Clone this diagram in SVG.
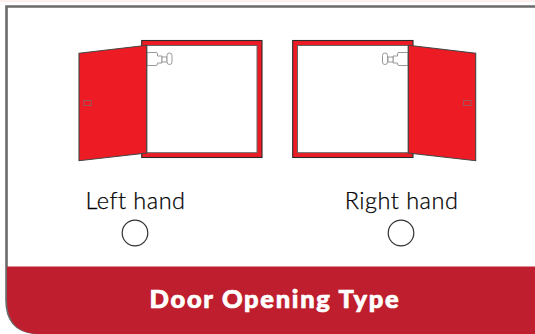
<svg xmlns="http://www.w3.org/2000/svg" width="535" height="334" viewBox="0 0 535 334">
<style>
.frame{fill:#ed1c24;stroke:#2b2b2b;stroke-width:1.1}
.inner{fill:#fff;stroke:#666;stroke-width:1}
.door{fill:#ed1c24;stroke:#444;stroke-width:1.1;stroke-linejoin:miter}
.hw{fill:#fff;stroke:#999;stroke-width:1}
.latch{fill:none;stroke:#a0555a;stroke-width:1}
.lbl{font-family:"Lato","Liberation Sans",sans-serif;font-weight:300;font-size:23.500px;fill:#000;stroke:#000;stroke-width:0.250;text-anchor:middle;letter-spacing:0.500px}
.radio{fill:#fff;stroke:#333;stroke-width:1.2}
</style>
<rect width="535" height="334" fill="#fff"/>
<rect x="0" y="0" width="535" height="2" fill="#fff0f0"/>
<g id="panel">
<path d="M535 6.500H6.500V300Q6.500 333 40 333H535" fill="#fff" stroke="#6b6b6b" stroke-width="2.600"/>
<path d="M7 266.500H535V334H40Q7 334 7 300Z" fill="#be1e2d"/>
</g>
<g id="left-door">
<rect class="frame" x="141.700" y="40.500" width="120.300" height="117"/>
<rect class="inner" x="146.700" y="45.500" width="110.300" height="107.200"/>
<path class="hw" d="M147 52.500H156Q157.500 52.500 157.500 54V56H162V63H157.500V64Q157.500 65.500 156 65.500H147Z"/>
<rect class="hw" x="162" y="57" width="5" height="5"/>
<rect class="hw" x="167" y="53" width="5" height="11.500" rx="2.400"/>
<polygon class="door" points="79,53.200 146.700,45.300 146.700,153 79,160.700"/>
<rect class="latch" x="83.700" y="100.500" width="7.600" height="5"/>
</g>
<g id="right-door">
<rect class="frame" x="292.700" y="40.500" width="120.300" height="117"/>
<rect class="inner" x="297.500" y="45.500" width="110.800" height="107.200"/>
<path class="hw" d="M408 52.500H399Q397.500 52.500 397.500 54V56H393V63H397.500V64Q397.500 65.500 399 65.500H408Z"/>
<rect class="hw" x="388" y="57" width="5" height="5"/>
<rect class="hw" x="382.500" y="53" width="5" height="11.500" rx="2.400"/>
<polygon class="door" points="408.300,45.300 475.700,53.200 475.700,160.700 408.300,153"/>
<rect class="latch" x="463.500" y="100.500" width="7.600" height="5"/>
</g>
<g id="left-option">
<text class="lbl" x="135.500" y="209">Left hand</text>
<circle class="radio" cx="135" cy="233" r="12.800"/>
</g>
<g id="right-option">
<text class="lbl" x="401.500" y="209">Right hand</text>
<circle class="radio" cx="401" cy="233" r="12.800"/>
</g>
<g id="title">
<text x="275" y="308" font-family="Lato,'Liberation Sans',sans-serif" font-weight="900" font-size="25.500" fill="#fff" stroke="#fff" stroke-width="0.7" text-anchor="middle" letter-spacing="1.700">Door Opening Type</text>
</g>
<g id="connectors"/>
</svg>
